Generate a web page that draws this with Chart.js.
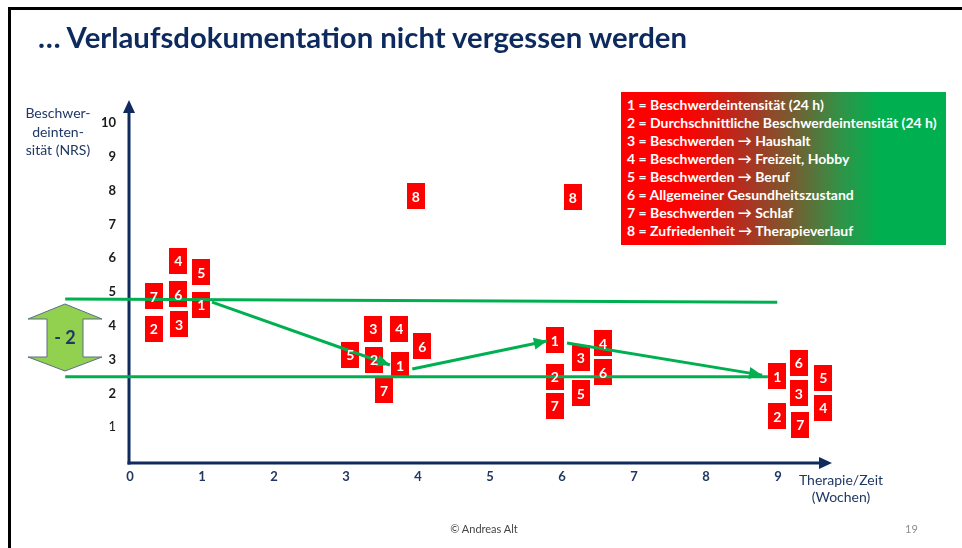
<!DOCTYPE html>
<html>
<head>
<meta charset="utf-8">
<script src="https://cdn.jsdelivr.net/npm/chart.js@4.4.0/dist/chart.umd.min.js"></script>
<style>
    body { margin: 0; background: #fff; font-family: Lato, 'Open Sans', sans-serif; }
    #slide { position: relative; width: 962px; height: 548px; overflow: hidden; }
    #chart { position: absolute; left: 0; top: 0; }
    .abs { position: absolute; white-space: nowrap; }
    #frameTop { left: 8px; top: 7px; width: 954px; height: 3px; background: #000; }
    #frameLeft { left: 8px; top: 7px; width: 3px; height: 541px; background: #000; }
    #title { left: 38px; top: 19px; font-size: 29.3px; font-weight: bold; color: #0d2a5e; }
    #legendBox {
        left: 621px; top: 92px; width: 325px; height: 153px;
        background: linear-gradient(to right, #ff0000 0%, #ff0000 20%, #b03020 38%, #7a5a30 52%, #2f9448 68%, #00b050 80%, #00b050 100%);
        color: #fff; font-weight: bold; font-size: 14px;
    }
    #legendBox div { position: absolute; left: 6px; height: 18px; line-height: 18px; }
    #yTitle { left: 18px; top: 104px; width: 80px; text-align: center; font-size: 14px; line-height: 18.5px; color: #1f3864; }
    #xTitle { left: 795px; top: 471px; width: 92px; text-align: center; font-size: 14px; line-height: 17px; color: #1f3864; }
    #footer { left: 424px; top: 522px; width: 120px; text-align: center; font-size: 11px; color: #444; }
    #pageNo { left: 905px; top: 522px; font-size: 11px; color: #8c8c8c; }
    #bandArrow { position: absolute; left: 0; top: 0; }
</style>
</head>
<body>
<div id="slide">
    <canvas id="chart" width="962" height="548"></canvas>
    <div class="abs" id="frameTop"></div>
    <div class="abs" id="frameLeft"></div>
    <div class="abs" id="title">… Verlaufsdokumentation nicht vergessen werden</div>
    <div class="abs" id="yTitle">Beschwer-<br>deinten-<br>sität (NRS)</div>
    <div class="abs" id="xTitle">Therapie/Zeit<br>(Wochen)</div>
    <div class="abs" id="legendBox"></div>
    <svg id="bandArrow" width="962" height="548">
        <polygon points="65,304 102,319 83,319 83,357 102,357 65,371 28,357 47,357 47,319 28,319"
                 fill="#92d050" stroke="#5a6f86" stroke-width="1"/>
        <text x="65" y="344" text-anchor="middle" font-family="Lato, sans-serif" font-weight="bold"
              font-size="18" fill="#1f3864">- 2</text>
    </svg>
    <div class="abs" id="footer">© Andreas Alt</div>
    <div class="abs" id="pageNo">19</div>
</div>
<script>
    // tick labels
    const xTicks = [0, 1, 2, 3, 4, 5, 6, 7, 8, 9];
    const yTicks = [1, 2, 3, 4, 5, 6, 7, 8, 9, 10];

    // legend / categories
    const categories = ['1', '2', '3', '4', '5', '6', '7', '8'];
    const legendTexts = [
        '1 = Beschwerdeintensität (24 h)',
        '2 = Durchschnittliche Beschwerdeintensität (24 h)',
        '3 = Beschwerden → Haushalt',
        '4 = Beschwerden → Freizeit, Hobby',
        '5 = Beschwerden → Beruf',
        '6 = Allgemeiner Gesundheitszustand',
        '7 = Beschwerden → Schlaf',
        '8 = Zufriedenheit → Therapieverlauf'
    ];

    // [Woche, NRS] per category
    const serie1 = [[0.99, 4.62], [3.75, 2.84], [5.90, 3.58], [8.99, 2.51]];
    const serie2 = [[0.33, 3.91], [3.39, 2.99], [5.90, 2.49], [8.99, 1.33]];
    const serie3 = [[0.68, 4.05], [3.38, 3.91], [6.26, 3.05], [9.29, 2.01]];
    const serie4 = [[0.67, 5.92], [3.74, 3.91], [6.57, 3.49], [9.63, 1.57]];
    const serie5 = [[0.99, 5.59], [3.06, 3.14], [6.26, 2.01], [9.63, 2.46]];
    const serie6 = [[0.67, 4.94], [4.06, 3.40], [6.57, 2.63], [9.29, 2.90]];
    const serie7 = [[0.33, 4.88], [3.53, 2.10], [5.90, 1.63], [9.31, 1.07]];
    const serie8 = [[3.97, 7.84], [6.15, 7.81]];

    // green reference lines and trend arrows
    const upperBand = [[-0.90, 4.79], [8.99, 4.70]];
    const lowerBand = [[-0.90, 2.49], [8.86, 2.49]];
    const trend1 = [[1.14, 4.70], [3.61, 2.84]];
    const trend2 = [[3.92, 2.72], [5.79, 3.55]];
    const trend3 = [[6.07, 3.49], [8.78, 2.54]];

    const legendBox = document.getElementById('legendBox');
    legendTexts.forEach((t, i) => {
        legendBox.innerHTML += `<div style="top:${4 + i * 18}px">${t}</div>`;
    });

    const green = '#00b050';
    const navy = '#0f2a5f';

    const box = document.createElement('canvas');
    box.width = 18;
    box.height = 26;
    const bctx = box.getContext('2d');
    bctx.fillStyle = '#ff0000';
    bctx.fillRect(0, 0, 18, 26);

    const toXY = arr => arr.map(p => ({x: p[0], y: p[1]}));

    const markerSets = [serie1, serie2, serie3, serie4, serie5, serie6, serie7, serie8].map((s, i) => ({
        label: categories[i],
        data: toXY(s),
        pointStyle: box,
        pointRadius: 10,
        showLine: false,
        order: 2,
        marker: true
    }));

    const lineSets = [upperBand, lowerBand, trend1, trend2, trend3].map((s, i) => ({
        label: '',
        data: toXY(s),
        showLine: true,
        borderColor: green,
        borderWidth: 3,
        pointRadius: 0,
        tension: 0,
        clip: false,
        order: 1,
        arrow: i >= 2
    }));

    const slidePlugin = {
        id: 'slidePlugin',
        beforeDatasetsDraw(chart) {
            const ctx = chart.ctx;
            const {left, right, top, bottom} = chart.chartArea;
            ctx.save();
            ctx.strokeStyle = navy;
            ctx.fillStyle = navy;
            ctx.lineWidth = 3;
            // y axis with arrow
            ctx.beginPath();
            ctx.moveTo(left - 1, bottom + 3.5);
            ctx.lineTo(left - 1, top + 8);
            ctx.stroke();
            ctx.beginPath();
            ctx.moveTo(left - 1, top);
            ctx.lineTo(left - 7, top + 13);
            ctx.lineTo(left + 5, top + 13);
            ctx.closePath();
            ctx.fill();
            // x axis with arrow
            ctx.beginPath();
            ctx.moveTo(left - 2.5, bottom + 2);
            ctx.lineTo(right - 8, bottom + 2);
            ctx.stroke();
            ctx.beginPath();
            ctx.moveTo(right, bottom + 2);
            ctx.lineTo(right - 13, bottom - 4);
            ctx.lineTo(right - 13, bottom + 8);
            ctx.closePath();
            ctx.fill();
            ctx.restore();
        },
        afterDatasetsDraw(chart) {
            const ctx = chart.ctx;
            ctx.save();
            chart.data.datasets.forEach((ds, i) => {
                const meta = chart.getDatasetMeta(i);
                if (ds.arrow) {
                    const a = meta.data[0], b = meta.data[meta.data.length - 1];
                    const ang = Math.atan2(b.y - a.y, b.x - a.x);
                    ctx.fillStyle = green;
                    ctx.beginPath();
                    ctx.moveTo(b.x, b.y);
                    ctx.lineTo(b.x - 13 * Math.cos(ang) + 6 * Math.sin(ang), b.y - 13 * Math.sin(ang) - 6 * Math.cos(ang));
                    ctx.lineTo(b.x - 13 * Math.cos(ang) - 6 * Math.sin(ang), b.y - 13 * Math.sin(ang) + 6 * Math.cos(ang));
                    ctx.closePath();
                    ctx.fill();
                }
                if (ds.marker) {
                    ctx.fillStyle = '#fff';
                    ctx.font = 'bold 14px Lato, sans-serif';
                    ctx.textAlign = 'center';
                    ctx.textBaseline = 'middle';
                    meta.data.forEach(p => ctx.fillText(ds.label, p.x, p.y + 1));
                }
            });
            ctx.restore();
        }
    };

    new Chart(document.getElementById('chart'), {
        type: 'scatter',
        data: {datasets: [...lineSets, ...markerSets]},
        options: {
            responsive: false,
            animation: false,
            events: [],
            layout: {padding: {left: 0, top: 100, right: 130, bottom: 0}},
            plugins: {
                legend: {display: false},
                tooltip: {enabled: false}
            },
            scales: {
                x: {
                    type: 'linear',
                    min: 0,
                    max: 9.75,
                    grid: {display: false, drawTicks: false},
                    border: {display: false},
                    afterFit: s => { s.height = 87; },
                    ticks: {
                        stepSize: 1,
                        includeBounds: false,
                        padding: 8,
                        color: '#1f3864',
                        font: {family: 'Lato', size: 13, weight: 'bold'},
                        callback: v => xTicks.includes(v) ? String(v) : ''
                    }
                },
                y: {
                    type: 'linear',
                    min: 0,
                    max: 10.68,
                    grid: {display: false, drawTicks: false},
                    border: {display: false},
                    afterFit: s => { s.width = 130; },
                    ticks: {
                        stepSize: 1,
                        includeBounds: false,
                        padding: 14,
                        color: '#1a1a1a',
                        font: c => ({family: 'Lato', size: 13, weight: c.tick && c.tick.value === 1 ? 'normal' : 'bold'}),
                        callback: v => yTicks.includes(v) ? String(v) : ''
                    }
                }
            }
        },
        plugins: [slidePlugin]
    });
</script>
</body>
</html>
